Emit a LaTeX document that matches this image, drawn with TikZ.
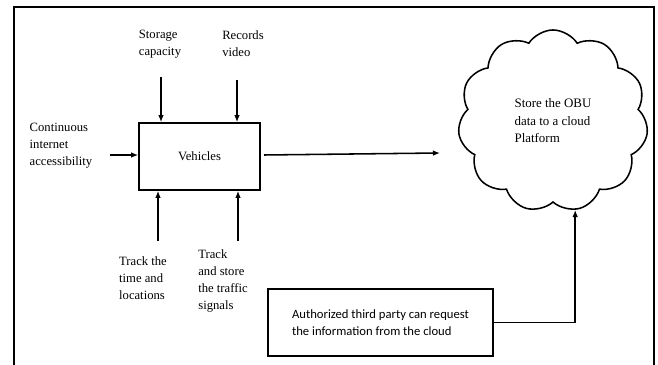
\documentclass[tikz,border=0pt]{standalone}
\usepackage{fontspec}
\setmainfont{Liberation Serif}
\newfontfamily\calibri{Carlito}
\usepackage{tikz}
\usetikzlibrary{shapes.symbols, arrows.meta, positioning}
\tikzset{
    box/.style={rectangle, draw, line width=1.2pt, text centered, align=center},
    label/.style={align=left, inner sep=0pt, font=\fontsize{9}{12}\selectfont},
    arrow/.style={-{Latex[length=5pt,width=4pt]}, line width=1.1pt}
}

\begin{document}
\begin{tikzpicture}[
    x=0.025cm, y=-0.025cm,
    vehicle/.style={box, minimum width=3.025cm, minimum height=1.675cm, font=\fontsize{9}{12}\selectfont},
    request/.style={box, minimum width=5.625cm, minimum height=1.675cm, align=left, font=\calibri\fontsize{9}{12}\selectfont},
    cloudy/.style={cloud, draw, line width=1.1pt, cloud puffs=11, cloud puff arc=115, aspect=1, minimum width=4.75cm, minimum height=4.55cm, align=left, font=\fontsize{9.2}{12.5}\selectfont}
]
    \useasboundingbox (0,0) rectangle (658,365);
    % Frame
    \draw[line width=1.2pt] (14,365) |- (654,7) -- (654,365);

    % Main blocks
    \node[vehicle] (veh) at (199.5,156.5) {Vehicles};
    \node[cloudy] (cloud) at (553,121) {Store the OBU\\data to a cloud\\Platform};
    \node[request] (auth) at (380.5,322.5) {Authorized third party can request\\the information from the cloud};

    % Inputs
    \node[label] (storage) at (160,44) {Storage\\capacity};
    \node[label] (records) at (243,44) {Records\\video};
    \node[label] (internet) at (61,146) {Continuous\\internet\\accessibility};
    \node[label] (timeloc) at (143,278) {Track the\\time and\\locations};
    \node[label] (traffic) at (223,281) {Track\\and store\\the traffic\\signals};

    % Free ends of the arrows
    \coordinate (storage-in) at (161,77);
    \coordinate (records-in) at (237,80);
    \coordinate (internet-in) at (110,155);
    \coordinate (timeloc-in) at (158,241);
    \coordinate (traffic-in) at (238,241);
    \coordinate (veh-out) at (264,155);
    \coordinate (cloud-in) at (440,153);

    % Connections
    \draw[arrow] (storage-in) -- (storage-in |- veh.north);
    \draw[arrow] (records-in) -- (records-in |- veh.north);
    \draw[arrow] (internet-in) -- (internet-in -| veh.west);
    \draw[arrow] (timeloc-in) -- (timeloc-in |- veh.south);
    \draw[arrow] (traffic-in) -- (traffic-in |- veh.south);
    \draw[arrow] (veh-out) -- (cloud-in);
    \draw[arrow] (auth.east) -| (cloud.-76);
\end{tikzpicture}
\end{document}
